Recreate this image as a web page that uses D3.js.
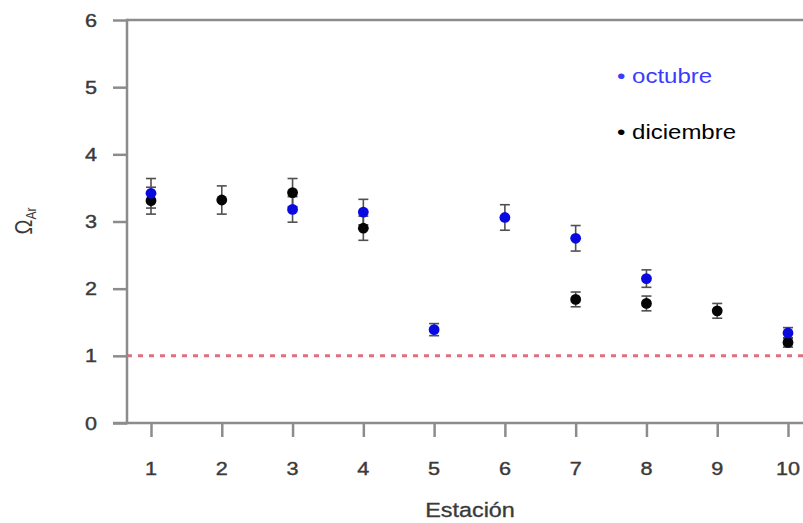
<!DOCTYPE html>
<html>
<head>
<meta charset="utf-8">
<script src="https://cdn.jsdelivr.net/npm/d3@7"></script>
<style>
  html, body { margin: 0; padding: 0; background: #fff; }
  svg { display: block; font-family: "Liberation Sans", Arial, sans-serif; }
</style>
</head>
<body>
<svg id="chart" width="803" height="523"></svg>
<script>
// Stations sampled
const stations = [1, 2, 3, 4, 5, 6, 7, 8, 9, 10];

// Aragonite saturation state (mean ± error) per station; null = not sampled
const octubreValues    = [3.42, null, 3.18, 3.14, 1.39, 3.06, 2.75, 2.15, null, 1.34];
const octubreErrors    = [0.22, null, 0.19, 0.19, 0.09, 0.19, 0.19, 0.13, null, 0.08];
const diciembreValues  = [3.31, 3.32, 3.43, 2.90, null, null, 1.84, 1.78, 1.67, 1.20];
const diciembreErrors  = [0.20, 0.21, 0.21, 0.18, null, null, 0.11, 0.11, 0.11, 0.07];

const yTicks = [0, 1, 2, 3, 4, 5, 6];
const threshold = 1;

const series = [
  { name: "diciembre", values: diciembreValues, errors: diciembreErrors, color: "#050505", legend: "#000000" },
  { name: "octubre",   values: octubreValues,   errors: octubreErrors,   color: "#0a0ae0", legend: "#3b3bff" }
];

const W = 803, H = 523;
const svg = d3.select("#chart");

const x = d3.scaleLinear().domain([1, 10]).range([151, 788]);
const y = d3.scaleLinear().domain([0, 6]).range([423, 20]);

const axisColor = "#8c8c8c";
const labelColor = "#3a3a3a";
const sx = 1.2; // text is rendered slightly wide

// text helper: positioned group with a horizontal stretch
function wideText(parent, tx, ty, str, opts) {
  const g = parent.append("g")
    .attr("transform", `translate(${tx},${ty}) scale(${sx},1)` + (opts.rotate ? ` rotate(${opts.rotate})` : ""));
  return g.append("text")
    .attr("text-anchor", opts.anchor || "start")
    .attr("font-size", opts.size)
    .attr("fill", opts.fill)
    .attr("stroke", opts.halo ? opts.fill : null)
    .attr("stroke-width", opts.halo || null)
    .text(str);
}

const xLeft = 127;

// Threshold line at Ω = 1
svg.append("line")
  .attr("x1", xLeft).attr("x2", W)
  .attr("y1", y(threshold)).attr("y2", y(threshold))
  .attr("stroke", "#dc5563").attr("stroke-width", 3).attr("stroke-opacity", 0.85)
  .attr("stroke-dasharray", "5,6");

// Y axis
const yAxis = svg.append("g")
  .attr("transform", `translate(${xLeft},0)`)
  .call(d3.axisLeft(y).tickValues(yTicks).tickSize(14).tickSizeOuter(0).tickFormat(d3.format("d")));
yAxis.select(".domain").remove();
yAxis.selectAll(".tick line").attr("stroke", axisColor).attr("stroke-width", 2.5);
yAxis.selectAll(".tick text").remove();
svg.append("line")
  .attr("x1", xLeft).attr("x2", xLeft)
  .attr("y1", y(6) - 1.25).attr("y2", y(0) + 1.25)
  .attr("stroke", axisColor).attr("stroke-width", 2.5);
yTicks.forEach(t => {
  wideText(svg, 97, y(t) + 6.5, d3.format("d")(t), { anchor: "end", size: 18, fill: labelColor, halo: 0.4 });
});

// Top frame line
svg.append("line")
  .attr("x1", xLeft).attr("x2", W)
  .attr("y1", y(6)).attr("y2", y(6))
  .attr("stroke", axisColor).attr("stroke-width", 2.5);

// X axis
const xAxis = svg.append("g")
  .attr("transform", `translate(0,${y(0)})`)
  .call(d3.axisBottom(x).tickValues(stations).tickSize(14).tickSizeOuter(0).tickFormat(d3.format("d")));
xAxis.select(".domain").remove();
xAxis.selectAll(".tick line").attr("stroke", axisColor).attr("stroke-width", 2.5);
xAxis.selectAll(".tick text").remove();
svg.append("line")
  .attr("x1", 113).attr("x2", W)
  .attr("y1", y(0)).attr("y2", y(0))
  .attr("stroke", axisColor).attr("stroke-width", 2.5);
stations.forEach(s => {
  wideText(svg, x(s), 475, d3.format("d")(s), { anchor: "middle", size: 18, fill: labelColor, halo: 0.4 });
});

// Axis titles
wideText(svg, 470, 517, "Estación", { anchor: "middle", size: 19.5, fill: labelColor, halo: 0.3 });
const yt = wideText(svg, 32, 221, "Ω", { anchor: "middle", size: 20, fill: labelColor, rotate: -90 });
yt.append("tspan").attr("font-size", 12).attr("dy", 3).text("Ar");

// Error bars and points
const plot = svg.append("g");
series.forEach(s => {
  const pts = stations.map((st, i) => ({ st, v: s.values[i], e: s.errors[i] })).filter(d => d.v !== null);
  const eb = plot.append("g").attr("stroke", "#505050").attr("stroke-width", 1.6);
  pts.forEach(d => {
    eb.append("line").attr("x1", x(d.st)).attr("x2", x(d.st)).attr("y1", y(d.v - d.e)).attr("y2", y(d.v + d.e));
    [d.v - d.e, d.v + d.e].forEach(c => {
      eb.append("line").attr("x1", x(d.st) - 5).attr("x2", x(d.st) + 5).attr("y1", y(c)).attr("y2", y(c));
    });
  });
});
series.forEach(s => {
  const pts = stations.map((st, i) => ({ st, v: s.values[i] })).filter(d => d.v !== null);
  plot.append("g").selectAll("circle").data(pts).join("circle")
    .attr("cx", d => x(d.st)).attr("cy", d => y(d.v)).attr("r", 5.4)
    .attr("fill", s.color);
});

// Legend
const legendItems = [
  { label: "• octubre", color: series[1].legend, yb: 83 },
  { label: "• diciembre", color: series[0].legend, yb: 139 }
];
legendItems.forEach(l => {
  wideText(svg, 617, l.yb, l.label, { anchor: "start", size: 20, fill: l.color });
});
</script>
</body>
</html>
